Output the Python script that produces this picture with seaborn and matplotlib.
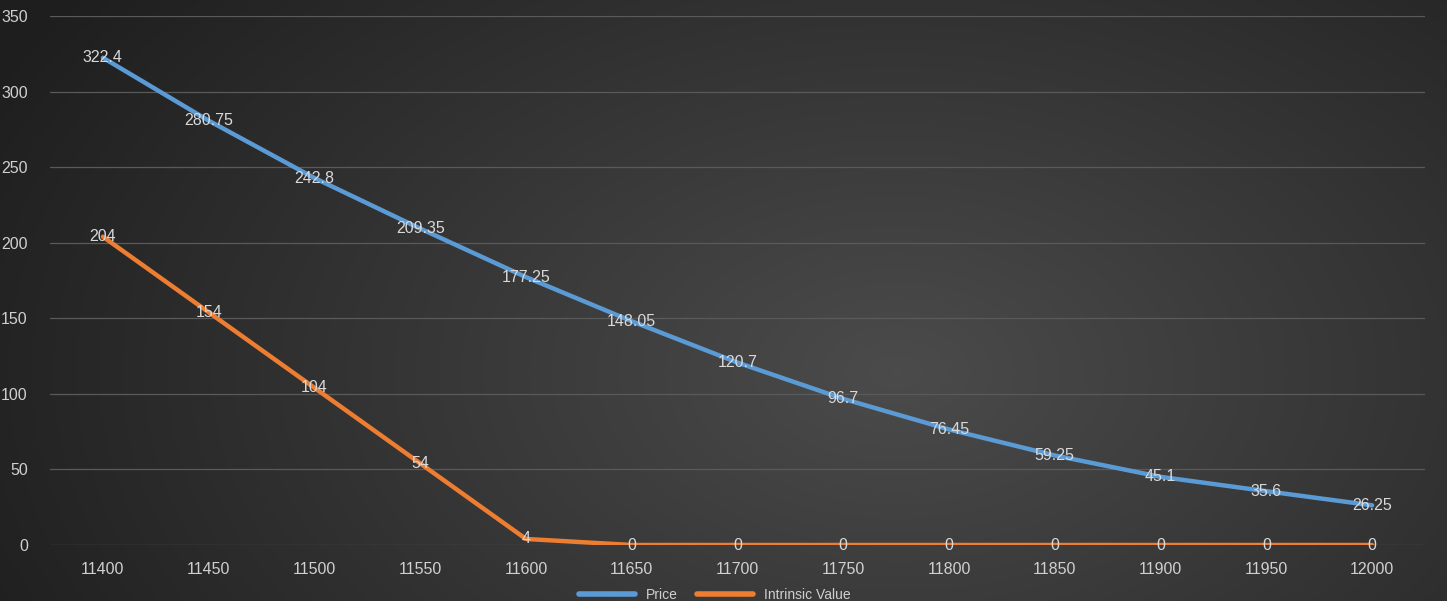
import numpy as np
import pandas as pd
import matplotlib
matplotlib.use("Agg")
import matplotlib.pyplot as plt
import seaborn as sns

# Option chain: premium and intrinsic value per strike
strikes = [11400, 11450, 11500, 11550, 11600, 11650, 11700, 11750,
           11800, 11850, 11900, 11950, 12000]
price = [322.4, 280.75, 242.8, 209.35, 177.25, 148.05, 120.7, 96.7,
         76.45, 59.25, 45.1, 35.6, 26.25]
intrinsic = [204, 154, 104, 54, 4, 0, 0, 0, 0, 0, 0, 0, 0]
series_names = ["Price", "Intrinsic Value"]
y_ticks = [0, 50, 100, 150, 200, 250, 300, 350]

df = pd.DataFrame({
    "Strike": strikes * 2,
    "Value": price + intrinsic,
    "Series": [series_names[0]] * len(strikes) + [series_names[1]] * len(strikes),
})

sns.set_theme(style="dark")
plt.rcParams["font.family"] = ["Liberation Sans", "DejaVu Sans"]

W, H, DPI = 1447, 601, 100
fig = plt.figure(figsize=(W / DPI, H / DPI), dpi=DPI)

# Dark radial-gradient backdrop
bg = fig.add_axes([0, 0, 1, 1], zorder=-10)
xx, yy = np.meshgrid(np.linspace(0, 1, 400), np.linspace(0, 1, 200))
d = np.sqrt(((xx - 0.62) / 0.72) ** 2 + ((yy - 0.62) / 1.1) ** 2)
shade = np.clip(0.295 - 0.18 * d, 0.12, 0.3)
bg.imshow(np.dstack([shade, shade, shade]), aspect="auto", extent=[0, 1, 0, 1],
          origin="upper", interpolation="bilinear")
bg.set_axis_off()

ax = fig.add_axes([50 / W, 1 - 545 / H, 1375 / W, 529 / H])
ax.set_facecolor("none")

palette = {"Price": "#5B9BD5", "Intrinsic Value": "#ED7D31"}
sns.lineplot(data=df, x="Strike", y="Value", hue="Series", palette=palette,
             linewidth=3.2, ax=ax, legend=True, zorder=3)

# Value labels centred on each point
for vals in (price, intrinsic):
    for s, v in zip(strikes, vals):
        ax.text(s, v, f"{v:g}", ha="center", va="center", color="#d9d9d9",
                fontsize=11.5, zorder=5)

ax.set_xlim(11375, 12025)
ax.set_ylim(0, 350)
ax.set_xticks(strikes)
ax.set_xticklabels([str(s) for s in strikes])
ax.set_yticks(y_ticks)
ax.set_xlabel("")
ax.set_ylabel("")
ax.grid(axis="y", color="#5a5a5a", linewidth=0.9, zorder=0)
ax.grid(axis="x", visible=False)
for sp in ax.spines.values():
    sp.set_visible(False)
ax.tick_params(axis="both", colors="#d0d0d0", labelsize=11.5, length=0)
ax.tick_params(axis="y", pad=16)
ax.tick_params(axis="x", pad=12)

handles, labels = ax.get_legend_handles_labels()
ax.get_legend().remove()
leg = fig.legend(handles, labels, loc="upper center", bbox_to_anchor=(0.494, 0.036),
                 ncol=2, frameon=False, fontsize=10, labelcolor="#d0d0d0",
                 handlelength=4.0, columnspacing=1.4, borderpad=0.1)
for line in leg.get_lines():
    line.set_linewidth(4)

fig.savefig("out.png", dpi=DPI)
